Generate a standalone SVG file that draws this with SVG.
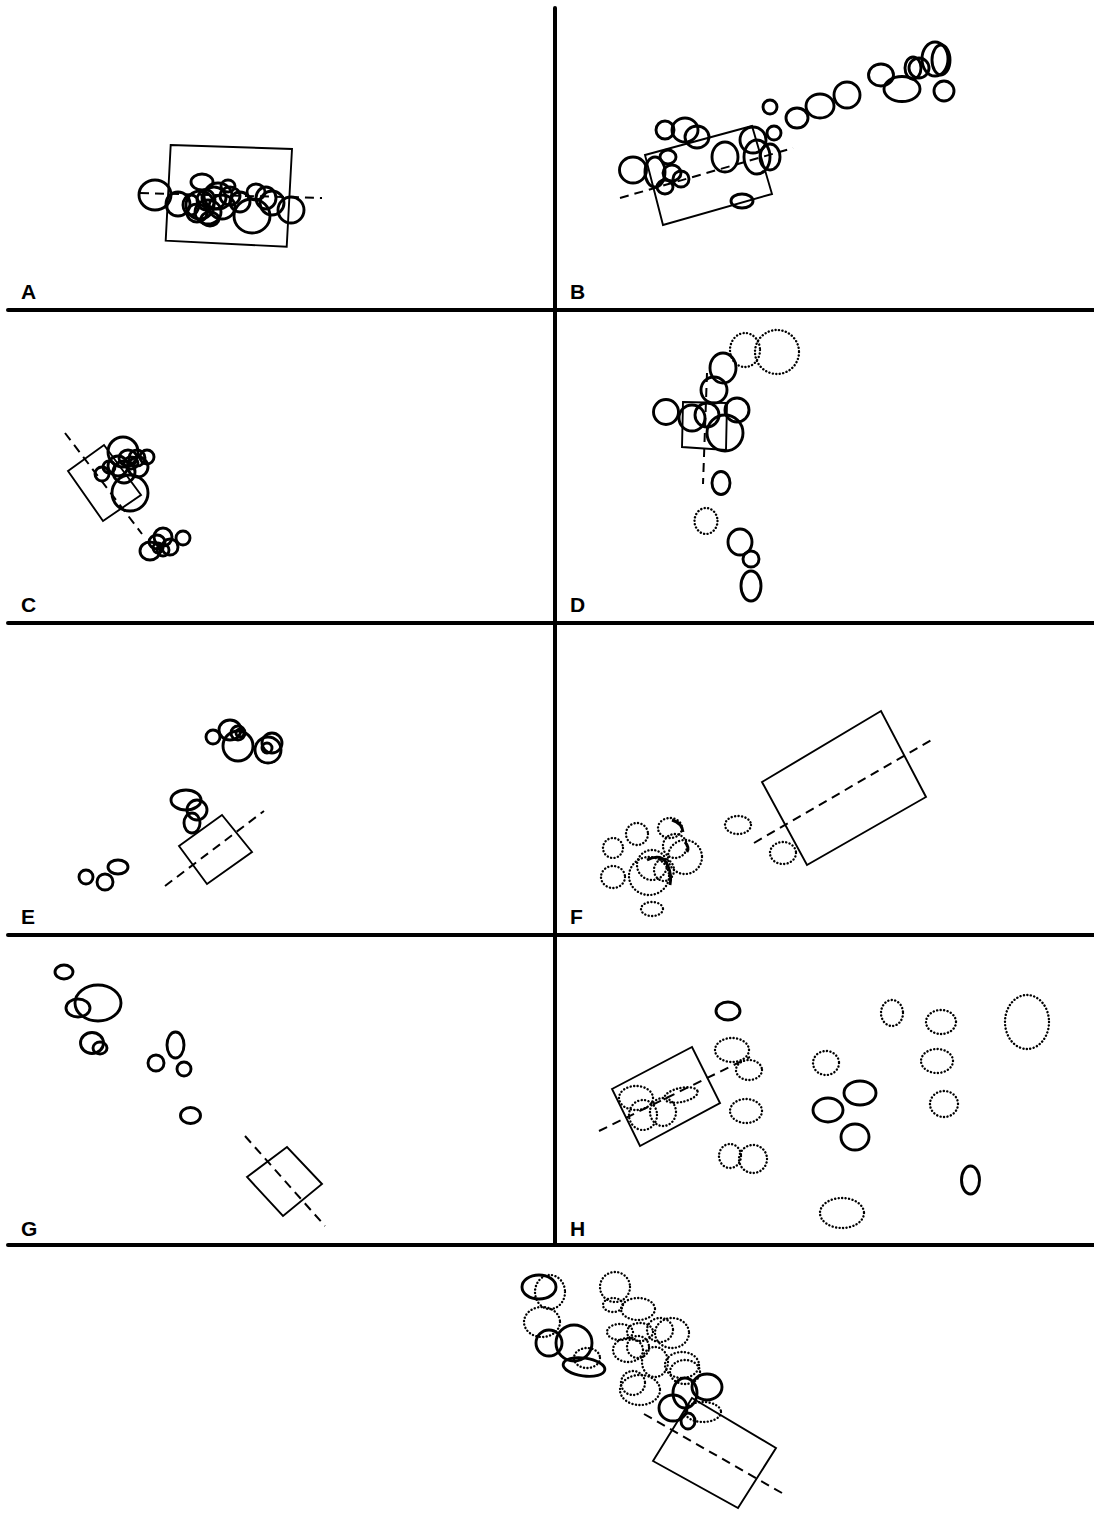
<svg xmlns="http://www.w3.org/2000/svg" width="1094" height="1516" viewBox="0 0 1094 1516">
<style>
.s{fill:none;stroke:#000;stroke-width:2.9}
.d{fill:none;stroke:#000;stroke-width:2.4;stroke-dasharray:0.1 3.4;stroke-linecap:round}
.r{fill:none;stroke:#000;stroke-width:1.9;stroke-linejoin:miter}
.k{fill:none;stroke:#000;stroke-width:2;stroke-dasharray:9 6}
.f{fill:none;stroke:#000;stroke-width:4;stroke-linecap:round}
.lbl{font-family:"Liberation Sans",Arial,sans-serif;font-weight:900;font-size:21px;fill:#000}
</style>
<rect width="1094" height="1516" fill="#fff"/>
<g id="frame">
<line class="f" x1="8" y1="310" x2="1094" y2="310"/>
<line class="f" x1="8" y1="623" x2="1094" y2="623"/>
<line class="f" x1="8" y1="935" x2="1094" y2="935"/>
<line class="f" x1="8" y1="1245" x2="1094" y2="1245"/>
<line class="f" x1="555" y1="8" x2="555" y2="1245"/>
</g>
<g id="labels">
<text class="lbl" x="21" y="299">A</text>
<text class="lbl" x="570" y="299">B</text>
<text class="lbl" x="21" y="612">C</text>
<text class="lbl" x="570" y="612">D</text>
<text class="lbl" x="21" y="924">E</text>
<text class="lbl" x="570" y="924">F</text>
<text class="lbl" x="21" y="1236">G</text>
<text class="lbl" x="570" y="1236">H</text>
</g>
<g id="panelA">
<polygon class="r" points="170.7,145 292,149 286.7,246.7 165.7,240.7"/>
<line class="k" x1="140" y1="193" x2="322" y2="198"/>
<ellipse class="s" cx="155" cy="195" rx="16" ry="15"/>
<ellipse class="s" cx="178" cy="204" rx="12" ry="12"/>
<ellipse class="s" cx="202" cy="182" rx="11" ry="8"/>
<ellipse class="s" cx="200" cy="205" rx="14" ry="14"/>
<ellipse class="s" cx="208" cy="212" rx="13" ry="12"/>
<ellipse class="s" cx="214" cy="198" rx="12" ry="11"/>
<ellipse class="s" cx="222" cy="207" rx="13" ry="12"/>
<ellipse class="s" cx="206" cy="200" rx="9" ry="10"/>
<ellipse class="s" cx="197" cy="213" rx="10" ry="9"/>
<ellipse class="s" cx="210" cy="219" rx="9" ry="7"/>
<ellipse class="s" cx="191" cy="205" rx="8" ry="10"/>
<ellipse class="s" cx="218" cy="196" rx="14" ry="13"/>
<ellipse class="s" cx="230" cy="196" rx="10" ry="9"/>
<ellipse class="s" cx="240" cy="202" rx="10" ry="10"/>
<ellipse class="s" cx="228" cy="186" rx="7" ry="6"/>
<ellipse class="s" cx="252" cy="216" rx="18" ry="17"/>
<ellipse class="s" cx="256" cy="192" rx="9" ry="8"/>
<ellipse class="s" cx="266" cy="198" rx="10" ry="11"/>
<ellipse class="s" cx="272" cy="203" rx="12" ry="12"/>
<ellipse class="s" cx="291" cy="210" rx="13" ry="13"/>
</g>
<g id="panelB">
<polygon class="r" points="645,155 752,126 772,194 663,225"/>
<line class="k" x1="620" y1="198" x2="793" y2="148"/>
<ellipse class="s" cx="633" cy="170" rx="13.5" ry="13"/>
<ellipse class="s" cx="655" cy="172" rx="10" ry="15"/>
<ellipse class="s" cx="665" cy="130" rx="9" ry="9"/>
<ellipse class="s" cx="685" cy="130" rx="13" ry="12"/>
<ellipse class="s" cx="697" cy="137" rx="12" ry="11"/>
<ellipse class="s" cx="668" cy="157" rx="8" ry="7"/>
<ellipse class="s" cx="672" cy="173" rx="9" ry="8"/>
<ellipse class="s" cx="665" cy="187" rx="8" ry="7"/>
<ellipse class="s" cx="681" cy="179" rx="8" ry="8"/>
<ellipse class="s" cx="725" cy="157" rx="13" ry="15"/>
<ellipse class="s" cx="753" cy="140" rx="13" ry="13"/>
<ellipse class="s" cx="757" cy="157" rx="13" ry="17"/>
<ellipse class="s" cx="770" cy="157" rx="10" ry="13"/>
<ellipse class="s" cx="770" cy="107" rx="7" ry="7"/>
<ellipse class="s" cx="774" cy="133" rx="7" ry="7"/>
<ellipse class="s" cx="742" cy="201" rx="11" ry="7"/>
<ellipse class="s" cx="797" cy="118" rx="11" ry="10"/>
<ellipse class="s" cx="820" cy="106" rx="14" ry="12"/>
<ellipse class="s" cx="847" cy="95" rx="13" ry="13"/>
<ellipse class="s" cx="881" cy="75" rx="12.5" ry="11"/>
<ellipse class="s" cx="902" cy="89" rx="18" ry="12.5"/>
<ellipse class="s" cx="913" cy="68" rx="8" ry="11"/>
<ellipse class="s" cx="919" cy="68" rx="10" ry="10"/>
<ellipse class="s" cx="935" cy="59" rx="13" ry="17"/>
<ellipse class="s" cx="941" cy="60" rx="9" ry="15"/>
<ellipse class="s" cx="944" cy="91" rx="10" ry="10"/>
</g>
<g id="panelC">
<polygon class="r" points="68,471 104,445 141,495 103,521"/>
<line class="k" x1="65" y1="433" x2="142" y2="534"/>
<ellipse class="s" cx="123" cy="452" rx="15" ry="15"/>
<ellipse class="s" cx="130" cy="493" rx="18" ry="18"/>
<ellipse class="s" cx="102" cy="474" rx="7" ry="7"/>
<ellipse class="s" cx="109" cy="467" rx="6" ry="6"/>
<ellipse class="s" cx="118" cy="466" rx="10" ry="10"/>
<ellipse class="s" cx="124" cy="472" rx="11" ry="11"/>
<ellipse class="s" cx="138" cy="467" rx="10" ry="10"/>
<ellipse class="s" cx="147" cy="457" rx="7" ry="7"/>
<ellipse class="s" cx="128" cy="458" rx="9" ry="8"/>
<ellipse class="s" cx="137" cy="458" rx="8" ry="8"/>
<ellipse class="s" cx="131" cy="463" rx="7" ry="6"/>
<ellipse class="s" cx="150" cy="551" rx="10" ry="9"/>
<ellipse class="s" cx="163" cy="537" rx="9" ry="9"/>
<ellipse class="s" cx="170" cy="547" rx="8" ry="8"/>
<ellipse class="s" cx="183" cy="538" rx="7" ry="7"/>
<ellipse class="s" cx="157" cy="542" rx="8" ry="7"/>
<ellipse class="s" cx="163" cy="550" rx="6" ry="6"/>
<ellipse class="s" cx="158" cy="548" rx="5" ry="5"/>
</g>
<g id="panelD">
<polygon class="r" points="683,402 727,403 726,450 682,447"/>
<line class="k" x1="707" y1="373" x2="703" y2="484"/>
<ellipse class="s" cx="666" cy="412" rx="12.5" ry="12.5"/>
<ellipse class="s" cx="723" cy="368" rx="13" ry="15"/>
<ellipse class="s" cx="714" cy="390" rx="13" ry="13"/>
<ellipse class="s" cx="692" cy="418" rx="13" ry="13"/>
<ellipse class="s" cx="707" cy="415" rx="12" ry="12"/>
<ellipse class="s" cx="737" cy="410" rx="12" ry="12"/>
<ellipse class="s" cx="725" cy="433" rx="18" ry="18"/>
<ellipse class="s" cx="721" cy="483" rx="9" ry="11.5"/>
<ellipse class="s" cx="740" cy="542" rx="12" ry="13"/>
<ellipse class="s" cx="751" cy="559" rx="8" ry="8"/>
<ellipse class="s" cx="751" cy="586" rx="10" ry="15"/>
<ellipse class="d" cx="745" cy="350" rx="15" ry="17"/>
<ellipse class="d" cx="777" cy="352" rx="22" ry="22"/>
<ellipse class="d" cx="706" cy="521" rx="11.5" ry="13"/>
</g>
<g id="panelE">
<polygon class="r" points="179,846 222,815 252,852 207,884"/>
<line class="k" x1="165" y1="886" x2="264" y2="811"/>
<ellipse class="s" cx="86" cy="877" rx="7" ry="7"/>
<ellipse class="s" cx="105" cy="882" rx="8" ry="8"/>
<ellipse class="s" cx="118" cy="867" rx="10" ry="7"/>
<ellipse class="s" cx="186" cy="800" rx="15" ry="10"/>
<ellipse class="s" cx="197" cy="810" rx="10" ry="10"/>
<ellipse class="s" cx="192" cy="823" rx="8" ry="10"/>
<ellipse class="s" cx="213" cy="737" rx="7" ry="7"/>
<ellipse class="s" cx="230" cy="730" rx="11" ry="10"/>
<ellipse class="s" cx="238" cy="733" rx="7" ry="7"/>
<ellipse class="s" cx="238" cy="746" rx="15" ry="15"/>
<ellipse class="s" cx="240" cy="733" rx="4" ry="4"/>
<ellipse class="s" cx="268" cy="750" rx="13" ry="13"/>
<ellipse class="s" cx="272" cy="743" rx="10" ry="10"/>
<ellipse class="s" cx="267" cy="748" rx="5" ry="5"/>
</g>
<g id="panelF">
<polygon class="r" points="762,782 881,711 926,797 807,865"/>
<line class="k" x1="754" y1="843" x2="933" y2="739"/>
<ellipse class="d" cx="738" cy="825" rx="13" ry="9"/>
<ellipse class="d" cx="783" cy="853" rx="13" ry="11"/>
<ellipse class="d" cx="613" cy="848" rx="10" ry="10"/>
<ellipse class="d" cx="637" cy="834" rx="11" ry="11"/>
<ellipse class="d" cx="613" cy="877" rx="12" ry="11"/>
<ellipse class="d" cx="670" cy="828" rx="12" ry="10"/>
<ellipse class="d" cx="675" cy="846" rx="12" ry="12"/>
<ellipse class="d" cx="685" cy="857" rx="17" ry="17"/>
<ellipse class="d" cx="652" cy="865" rx="15" ry="15"/>
<ellipse class="d" cx="649" cy="876" rx="20" ry="19"/>
<ellipse class="d" cx="652" cy="909" rx="11" ry="7"/>
<ellipse class="d" cx="664" cy="870" rx="10" ry="11"/>
<path class="s" d="M672,820 Q682,823 683,832 M685,842 Q690,848 687,852 M647,860 Q662,852 668,866 Q672,875 670,885" stroke-width="2.2"/>
</g>
<g id="panelG">
<polygon class="r" points="247,1177 287,1147 322,1184 283,1216"/>
<line class="k" x1="245" y1="1136" x2="325" y2="1226"/>
<ellipse class="s" cx="64" cy="972" rx="9" ry="7"/>
<ellipse class="s" cx="98" cy="1003" rx="23" ry="18"/>
<ellipse class="s" cx="78" cy="1008" rx="12" ry="9"/>
<ellipse class="s" cx="92" cy="1043" rx="11.5" ry="10.5"/>
<ellipse class="s" cx="100" cy="1048" rx="7" ry="6"/>
<ellipse class="s" cx="175.5" cy="1045" rx="8.5" ry="13"/>
<ellipse class="s" cx="156" cy="1063" rx="8" ry="8"/>
<ellipse class="s" cx="184" cy="1069" rx="7" ry="7"/>
<ellipse class="s" cx="190.5" cy="1115.5" rx="10" ry="8"/>
</g>
<g id="panelH">
<polygon class="r" points="612,1089 692,1047 720,1103 640,1146"/>
<line class="k" x1="599" y1="1131" x2="750" y2="1057"/>
<ellipse class="s" cx="728" cy="1011" rx="12" ry="9"/>
<ellipse class="s" cx="828" cy="1110" rx="15" ry="12"/>
<ellipse class="s" cx="860" cy="1093" rx="16" ry="12"/>
<ellipse class="s" cx="855" cy="1137" rx="14" ry="13"/>
<ellipse class="s" cx="970.5" cy="1180" rx="9" ry="14"/>
<ellipse class="d" cx="732" cy="1050" rx="17" ry="12"/>
<ellipse class="d" cx="749" cy="1070" rx="13" ry="10"/>
<ellipse class="d" cx="746" cy="1111" rx="16" ry="12"/>
<ellipse class="d" cx="730" cy="1156" rx="11" ry="12"/>
<ellipse class="d" cx="753" cy="1159" rx="14" ry="14"/>
<ellipse class="d" cx="826" cy="1063" rx="13" ry="12"/>
<ellipse class="d" cx="892" cy="1013" rx="11" ry="13"/>
<ellipse class="d" cx="941" cy="1022" rx="15" ry="12"/>
<ellipse class="d" cx="937" cy="1061" rx="16" ry="12"/>
<ellipse class="d" cx="944" cy="1104" rx="14" ry="13"/>
<ellipse class="d" cx="1027" cy="1022" rx="22" ry="27"/>
<ellipse class="d" cx="842" cy="1213" rx="22" ry="15"/>
<ellipse class="d" cx="636" cy="1098" rx="17" ry="12"/>
<ellipse class="d" cx="643" cy="1115" rx="14" ry="15"/>
<ellipse class="d" cx="663" cy="1112" rx="13" ry="14"/>
<ellipse class="d" cx="681" cy="1095" rx="17" ry="7" transform="rotate(-12 681 1095)"/>
</g>
<g id="panelI">
<polygon class="r" points="653,1461 692,1398 776,1448 738,1508"/>
<line class="k" x1="644" y1="1414" x2="782" y2="1493"/>
<ellipse class="s" cx="539" cy="1287" rx="17" ry="12"/>
<ellipse class="s" cx="549" cy="1343" rx="13" ry="13"/>
<ellipse class="s" cx="574" cy="1343" rx="18" ry="18"/>
<ellipse class="s" cx="584" cy="1367" rx="21" ry="9" transform="rotate(8 584 1367)"/>
<ellipse class="s" cx="673" cy="1408" rx="14" ry="13"/>
<ellipse class="s" cx="685" cy="1393" rx="12" ry="15"/>
<ellipse class="s" cx="707" cy="1387" rx="15" ry="13"/>
<ellipse class="s" cx="688" cy="1421" rx="7" ry="8"/>
<ellipse class="d" cx="550" cy="1292" rx="15" ry="17"/>
<ellipse class="d" cx="542" cy="1322" rx="18" ry="15"/>
<ellipse class="d" cx="587" cy="1358" rx="13" ry="10"/>
<ellipse class="d" cx="615" cy="1287" rx="15" ry="15"/>
<ellipse class="d" cx="613" cy="1305" rx="10" ry="7"/>
<ellipse class="d" cx="638" cy="1309" rx="17" ry="11"/>
<ellipse class="d" cx="620" cy="1332" rx="13" ry="8"/>
<ellipse class="d" cx="640" cy="1332" rx="13" ry="9"/>
<ellipse class="d" cx="660" cy="1330" rx="13" ry="12"/>
<ellipse class="d" cx="672" cy="1333" rx="17" ry="15"/>
<ellipse class="d" cx="628" cy="1350" rx="15" ry="12"/>
<ellipse class="d" cx="655" cy="1362" rx="13" ry="15"/>
<ellipse class="d" cx="682" cy="1365" rx="17" ry="13"/>
<ellipse class="d" cx="685" cy="1372" rx="15" ry="12"/>
<ellipse class="d" cx="633" cy="1383" rx="12" ry="12"/>
<ellipse class="d" cx="640" cy="1390" rx="20" ry="15"/>
<ellipse class="d" cx="703" cy="1412" rx="18" ry="10"/>
<ellipse class="d" cx="638" cy="1347" rx="11" ry="11"/>
</g>
</svg>
